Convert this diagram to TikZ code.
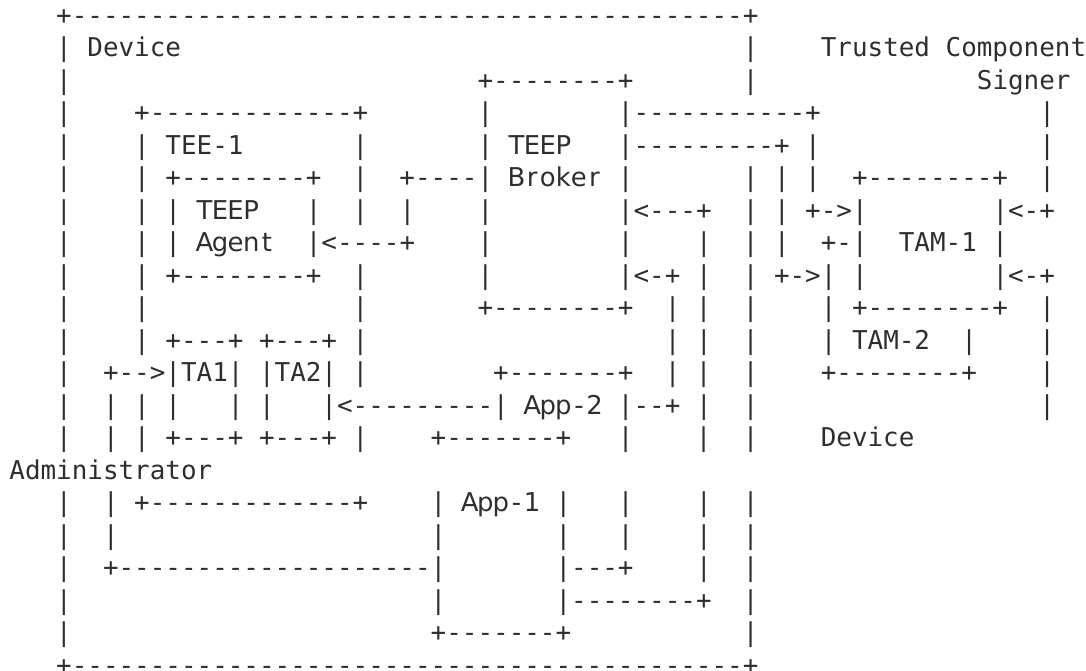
\documentclass[tikz,border=0pt]{standalone}
\usepackage{fontspec}
\setmonofont{DejaVu Sans Mono}
\setsansfont{DejaVu Sans}
\definecolor{ink}{HTML}{2E2E2E}

\newlength{\charw}
\newcommand{\artfont}{\ttfamily\fontsize{12.96pt}{16.25pt}\selectfont}
\newcommand{\gap}[1]{\hspace*{#1\charw}}
\AtBeginDocument{\settowidth{\charw}{\artfont M}}
% words that the reference sets in a proportional face, one letter per cell
\ExplSyntaxOn
\NewDocumentCommand{\word}{m}{\tl_map_inline:nn {#1} {\makebox[\charw]{\sffamily ##1}}}
\ExplSyntaxOff

\tikzset{artline/.style={anchor=base west, inner sep=0pt, font=\artfont, text=ink}}

\begin{document}
\begin{tikzpicture}[x=7.8pt, y={(0,-16.25pt)}]
  \useasboundingbox (-0.577,0.255) rectangle (69.04,20.871);
  % device frame, TEE-1, broker, TAMs
  \node[artline] (row01) at (0,1)  {\gap{3}+-------------------------------------------+};
  \node[artline] (row02) at (0,2)  {\gap{3}|\gap{1}Device\gap{36}|\gap{4}Trusted\gap{1}Component};
  \node[artline] (row03) at (0,3)  {\gap{3}|\gap{26}+--------+\gap{7}|\gap{14}Signer};
  \node[artline] (row04) at (0,4)  {\gap{3}|\gap{4}+-------------+\gap{7}|\gap{8}|-----------+\gap{14}|};
  \node[artline] (row05) at (0,5)  {\gap{3}|\gap{4}|\gap{1}TEE-1\gap{7}|\gap{7}|\gap{1}\word{TEEP}\gap{3}|---------+\gap{1}|\gap{14}|};
  \node[artline] (row06) at (0,6)  {\gap{3}|\gap{4}|\gap{1}+--------+\gap{2}|\gap{2}+----|\gap{1}\word{Broker}\gap{1}|\gap{7}|\gap{1}|\gap{1}|\gap{2}+--------+\gap{2}|};
  \node[artline] (row07) at (0,7)  {\gap{3}|\gap{4}|\gap{1}|\gap{1}\word{TEEP}\gap{3}|\gap{2}|\gap{2}|\gap{4}|\gap{8}|<---+\gap{2}|\gap{1}|\gap{1}+->|\gap{8}|<-+};
  \node[artline] (row08) at (0,8)  {\gap{3}|\gap{4}|\gap{1}|\gap{1}\word{Agent}\gap{2}|<----+\gap{4}|\gap{8}|\gap{4}|\gap{2}|\gap{1}|\gap{2}+-|\gap{2}TAM-1\gap{1}|};
  \node[artline] (row09) at (0,9)  {\gap{3}|\gap{4}|\gap{1}+--------+\gap{2}|\gap{7}|\gap{8}|<-+\gap{1}|\gap{2}|\gap{1}+->|\gap{1}|\gap{8}|<-+};
  \node[artline] (row10) at (0,10) {\gap{3}|\gap{4}|\gap{13}|\gap{7}+--------+\gap{2}|\gap{1}|\gap{2}|\gap{4}|\gap{1}+--------+\gap{2}|};
  \node[artline] (row11) at (0,11) {\gap{3}|\gap{4}|\gap{1}+---+\gap{1}+---+\gap{1}|\gap{19}|\gap{1}|\gap{2}|\gap{4}|\gap{1}TAM-2\gap{2}|\gap{4}|};
  % trusted apps and applications
  \node[artline] (row12) at (0,12) {\gap{3}|\gap{2}+-->|TA1|\gap{1}|TA2|\gap{1}|\gap{8}+-------+\gap{2}|\gap{1}|\gap{2}|\gap{4}+--------+\gap{4}|};
  \node[artline] (row13) at (0,13) {\gap{3}|\gap{2}|\gap{1}|\gap{1}|\gap{3}|\gap{1}|\gap{3}|<---------|\gap{1}\word{App-2}\gap{1}|--+\gap{1}|\gap{2}|\gap{18}|};
  \node[artline] (row14) at (0,14) {\gap{3}|\gap{2}|\gap{1}|\gap{1}+---+\gap{1}+---+\gap{1}|\gap{4}+-------+\gap{3}|\gap{4}|\gap{2}|\gap{4}Device};
  \node[artline] (row15) at (0,15) {Administrator};
  \node[artline] (row16) at (0,16) {\gap{3}|\gap{2}|\gap{1}+-------------+\gap{4}|\gap{1}\word{App-1}\gap{1}|\gap{3}|\gap{4}|\gap{2}|};
  \node[artline] (row17) at (0,17) {\gap{3}|\gap{2}|\gap{20}|\gap{7}|\gap{3}|\gap{4}|\gap{2}|};
  \node[artline] (row18) at (0,18) {\gap{3}|\gap{2}+--------------------|\gap{7}|---+\gap{4}|\gap{2}|};
  \node[artline] (row19) at (0,19) {\gap{3}|\gap{23}|\gap{7}|--------+\gap{2}|};
  \node[artline] (row20) at (0,20) {\gap{3}|\gap{23}+-------+\gap{11}|};
  \node[artline] (row21) at (0,21) {\gap{3}+-------------------------------------------+};
\end{tikzpicture}
\end{document}
